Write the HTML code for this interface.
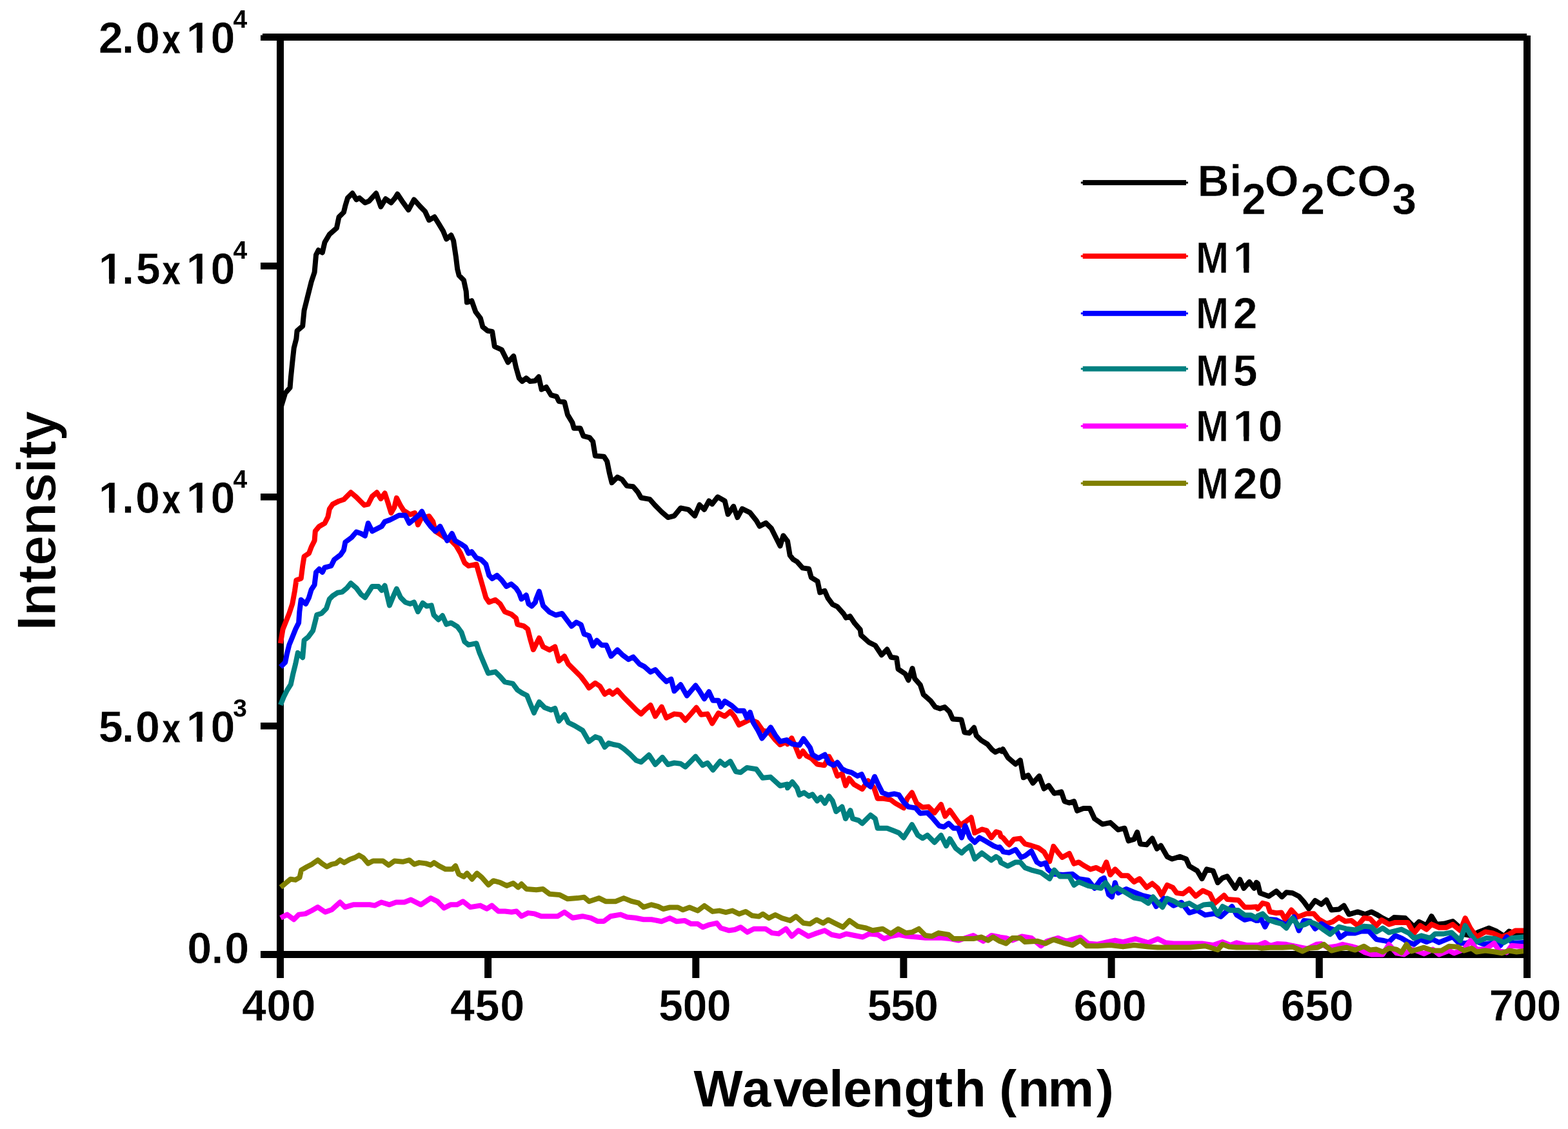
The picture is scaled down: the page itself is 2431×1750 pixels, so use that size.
<!DOCTYPE html>
<html><head><meta charset="utf-8"><title>PL spectra</title>
<style>html,body{margin:0;padding:0;background:#fff;} body{width:2431px;height:1750px;overflow:hidden;} svg{display:block;}</style>
</head><body>
<svg width="2431" height="1750" viewBox="0 0 2431 1750">
<rect width="2431" height="1750" fill="#fff"/>
<rect x="407" y="52" width="1960" height="11" fill="#000"/>
<rect x="429" y="52" width="11" height="1464" fill="#000"/>
<rect x="2362" y="55" width="11" height="1461" fill="#000"/>
<rect x="404" y="1474" width="1969" height="11" fill="#000"/>
<rect x="404" y="54.5" width="30" height="8.5" fill="#000"/>
<rect x="404" y="407" width="30" height="10.6" fill="#000"/>
<rect x="404" y="765" width="30" height="10.6" fill="#000"/>
<rect x="404" y="1120" width="30" height="10.6" fill="#000"/>
<rect x="751.1" y="1480" width="11" height="36" fill="#000"/>
<rect x="1073.3" y="1480" width="11" height="36" fill="#000"/>
<rect x="1395.4" y="1480" width="11" height="36" fill="#000"/>
<rect x="1717.6" y="1480" width="11" height="36" fill="#000"/>
<rect x="2039.8" y="1480" width="11" height="36" fill="#000"/>
<clipPath id="clip"><rect x="420" y="40" width="1942" height="1446"/></clipPath>
<g clip-path="url(#clip)">
<path d="M434.4,635.2 442.2,609.5 449.6,600.9 450.8,586.2 453.3,561.7 455.7,539.6 459.4,524.9 460.6,512.7 469.2,505.4 471.6,480.9 475.3,466.2 479.0,451.5 482.7,436.8 487.6,422.1 490.0,395.1 493.7,387.8 499.8,391.5 503.5,375.5 510.8,363.3 521.9,353.5 525.5,336.3 532.9,329.0 535.3,319.2 539.0,306.9 546.4,299.6 552.5,309.4 557.4,306.9 565.9,314.3 572.1,311.8 583.1,299.6 590.4,320.4 597.8,308.2 606.4,314.3 612.5,306.9 616.2,300.8 623.5,311.8 633.3,325.3 641.9,309.4 651.7,320.4 659.0,327.8 665.2,341.2 673.7,336.3 679.8,346.1 687.2,358.4 692.1,370.6 699.4,364.5 703.1,373.1 706.8,397.6 709.2,417.2 711.7,427.0 719.0,434.3 722.7,451.5 723.9,468.6 731.3,466.2 737.4,483.3 744.8,493.1 748.4,506.6 755.8,512.7 763.1,513.9 766.8,537.2 777.8,542.1 787.6,561.7 796.2,551.9 799.9,569.0 804.8,586.2 809.7,591.1 815.8,586.2 821.9,591.1 829.8,590.2 830.0,589.9 835.2,584.1 839.6,603.7 846.9,600.0 854.3,612.3 862.9,614.7 866.5,622.1 875.1,623.3 880.0,642.9 887.4,655.1 889.8,663.7 899.6,663.7 904.5,675.9 914.3,678.4 919.2,684.5 922.9,706.6 936.4,707.8 941.2,715.1 944.9,733.5 948.6,748.2 957.2,739.6 964.5,743.3 971.9,753.1 981.7,754.3 989.0,762.9 993.9,771.5 1007.4,773.9 1016.0,783.7 1025.8,793.5 1035.6,802.1 1045.4,799.6 1055.2,787.4 1067.4,789.8 1077.2,799.6 1084.5,782.5 1091.9,789.8 1099.2,776.4 1104.1,781.3 1112.7,770.3 1123.7,776.4 1128.6,797.2 1137.2,784.9 1143.3,802.1 1150.7,788.6 1162.9,794.7 1172.7,807.0 1177.6,815.6 1187.4,810.7 1196.0,819.2 1202.1,831.5 1209.5,846.2 1214.4,830.3 1220.0,837.6 1221.0,838.8 1224.7,860.8 1229.6,867.0 1235.7,870.6 1244.3,880.4 1254.1,881.7 1257.8,895.1 1267.6,901.2 1271.2,918.4 1278.6,915.9 1283.5,927.0 1290.8,936.8 1298.2,940.4 1308.0,951.5 1311.7,957.6 1317.8,955.1 1325.1,966.2 1333.7,976.0 1334.9,984.5 1347.2,995.6 1357.0,1000.5 1366.8,1015.2 1375.3,1006.6 1381.5,1018.8 1390.0,1020.0 1392.5,1037.2 1403.5,1044.5 1408.4,1054.3 1414.5,1036.0 1418.2,1051.9 1426.8,1061.7 1431.7,1076.4 1442.7,1086.2 1450.0,1096.0 1457.4,1098.4 1464.7,1096.0 1472.1,1103.3 1477.0,1114.4 1490.5,1115.6 1495.4,1135.2 1502.7,1136.4 1510.1,1127.8 1513.7,1140.1 1521.1,1147.4 1530.9,1153.5 1538.2,1162.1 1543.1,1165.8 1550.0,1162.5 1552.9,1164.6 1554.9,1161.2 1562.2,1173.5 1562.7,1174.4 1574.5,1184.5 1581.8,1178.4 1586.7,1205.3 1594.1,1201.7 1601.4,1213.9 1611.2,1202.9 1618.6,1222.5 1625.9,1217.6 1634.5,1229.8 1645.5,1227.4 1650.4,1242.1 1657.8,1244.5 1665.1,1242.1 1670.0,1256.8 1679.8,1253.1 1689.6,1253.1 1697.0,1269.0 1709.2,1277.6 1721.5,1275.1 1733.7,1286.2 1743.5,1283.7 1749.6,1303.3 1758.2,1300.9 1763.1,1289.8 1768.0,1308.2 1777.8,1309.4 1786.4,1299.6 1793.7,1315.6 1799.8,1310.7 1809.6,1327.8 1817.0,1331.5 1829.2,1327.8 1839.0,1331.5 1843.9,1342.5 1856.2,1349.8 1863.5,1362.1 1870.9,1347.4 1880.7,1349.8 1888.0,1368.2 1895.4,1360.9 1902.7,1358.4 1915.0,1376.8 1922.3,1363.3 1928.4,1376.8 1937.0,1367.0 1944.4,1376.8 1947.8,1367.8 1950.0,1369.4 1953.6,1384.3 1967.2,1389.2 1978.8,1381.4 1987.5,1390.1 1994.3,1383.3 2004.0,1384.3 2013.7,1389.2 2021.5,1397.9 2029.2,1408.6 2038.9,1395.9 2048.6,1401.8 2056.4,1395.0 2064.2,1410.5 2075.8,1409.5 2083.6,1403.7 2091.3,1417.3 2104.9,1413.4 2116.5,1417.3 2126.2,1413.4 2134.0,1417.3 2143.7,1423.1 2153.4,1428.0 2161.2,1422.1 2178.6,1423.1 2192.2,1436.7 2200.0,1428.9 2211.6,1434.7 2219.4,1420.2 2227.1,1432.8 2238.8,1431.8 2252.3,1428.0 2262.0,1436.7 2269.8,1448.3 2281.4,1450.3 2293.1,1444.4 2308.6,1438.6 2320.2,1443.5 2331.9,1451.2 2339.6,1443.5 2347.4,1446.4 2366.8,1445.4" fill="none" stroke="#000000" stroke-width="8.0" stroke-linejoin="round" stroke-linecap="butt"/>
<path d="M434.9,997.2 438.6,975.2 443.5,962.9 448.4,950.7 453.3,936.0 456.9,916.4 459.4,899.2 466.7,896.8 469.2,877.2 471.6,862.5 479.0,857.6 482.7,847.8 487.6,838.0 488.8,823.3 494.9,815.9 503.5,811.0 508.4,801.2 510.8,789.0 515.7,781.6 525.5,776.7 532.9,774.3 543.9,763.3 552.5,770.6 564.7,782.9 570.8,781.6 577.0,769.4 584.3,763.3 590.4,773.1 596.6,764.5 601.5,779.2 606.4,795.1 611.3,786.5 614.9,771.8 621.1,784.1 626.0,791.4 635.8,797.6 643.1,795.1 648.0,813.5 652.9,803.7 665.2,800.0 671.3,808.6 674.9,823.3 682.3,828.2 689.6,833.1 699.4,838.0 706.8,845.3 714.1,857.6 720.3,872.3 726.4,877.2 738.6,874.7 743.5,891.9 748.4,909.0 753.3,926.2 758.2,933.5 768.0,929.8 775.4,936.0 782.7,948.2 792.5,951.9 799.9,958.0 802.3,967.8 812.1,970.3 818.2,975.2 821.9,989.8 826.8,1007.0 827.3,1006.1 835.9,989.0 842.0,1002.5 851.8,1007.4 860.4,1002.5 866.5,1024.5 875.1,1017.2 881.2,1029.4 891.0,1039.2 900.8,1049.0 908.2,1058.8 913.1,1066.2 922.9,1058.8 930.2,1063.7 937.6,1076.0 944.9,1071.1 949.8,1076.0 957.2,1069.8 967.0,1080.9 976.8,1090.7 986.6,1100.5 993.9,1106.6 1001.3,1099.2 1008.6,1093.1 1016.0,1110.3 1025.8,1095.6 1033.1,1112.7 1045.4,1106.6 1055.2,1107.8 1062.5,1116.4 1072.3,1105.4 1079.6,1096.8 1087.0,1107.8 1096.8,1106.6 1104.1,1121.3 1113.9,1105.4 1123.7,1110.3 1132.3,1102.9 1138.4,1110.3 1145.8,1123.7 1155.6,1118.8 1162.9,1115.2 1173.9,1120.0 1182.5,1132.3 1192.3,1134.7 1202.1,1147.0 1209.5,1154.3 1220.0,1149.4 1221.0,1153.3 1227.4,1144.1 1233.9,1158.8 1239.4,1172.6 1244.9,1164.3 1250.4,1171.6 1257.8,1175.3 1266.9,1184.5 1278.0,1186.3 1285.3,1172.6 1290.8,1182.7 1298.2,1202.9 1305.5,1199.2 1311.0,1217.6 1316.5,1206.5 1323.9,1215.7 1336.7,1223.1 1345.9,1210.2 1355.1,1221.2 1360.6,1237.8 1369.8,1237.8 1380.8,1239.6 1388.2,1245.1 1401.0,1252.4 1406.5,1237.8 1413.9,1228.6 1421.2,1245.1 1430.4,1251.5 1439.6,1250.6 1448.8,1259.8 1458.9,1246.9 1465.3,1265.3 1472.7,1256.1 1481.8,1269.0 1489.2,1279.1 1498.4,1272.7 1505.7,1267.1 1511.2,1291.0 1522.2,1285.5 1529.6,1287.3 1536.9,1298.4 1544.3,1289.2 1550.0,1291.1 1551.6,1296.5 1554.9,1298.4 1562.7,1307.6 1564.7,1309.4 1572.0,1300.9 1581.8,1299.6 1589.2,1308.2 1599.0,1310.7 1610.0,1314.3 1618.6,1320.5 1627.2,1335.2 1633.3,1311.9 1640.6,1321.7 1646.8,1329.0 1657.8,1322.9 1665.1,1338.8 1672.5,1336.4 1679.8,1341.3 1690.8,1347.4 1699.4,1344.9 1709.2,1349.8 1715.3,1336.4 1721.5,1356.0 1728.8,1347.4 1738.6,1357.2 1748.4,1357.2 1758.2,1367.0 1766.8,1362.1 1777.8,1375.6 1786.4,1369.4 1794.9,1376.8 1801.1,1387.8 1809.6,1371.9 1818.2,1375.6 1824.3,1384.1 1834.1,1385.4 1843.9,1378.0 1853.7,1389.0 1864.8,1380.5 1875.8,1385.4 1883.1,1400.1 1897.8,1387.8 1902.7,1393.9 1919.9,1395.2 1929.7,1406.2 1939.5,1406.2 1947.8,1405.6 1950.0,1408.6 1957.5,1399.8 1965.2,1401.8 1969.1,1413.4 1978.8,1415.3 1986.6,1414.4 1992.4,1425.0 2002.1,1410.5 2011.8,1421.2 2017.6,1419.2 2025.4,1416.3 2037.0,1416.3 2044.8,1425.0 2056.4,1431.8 2066.1,1428.9 2075.8,1422.1 2085.5,1428.0 2095.2,1427.0 2104.9,1434.7 2114.6,1423.1 2124.3,1424.1 2134.0,1434.7 2141.8,1426.0 2153.4,1432.8 2163.1,1429.9 2182.5,1429.9 2192.2,1446.4 2201.9,1434.7 2211.6,1440.6 2219.4,1432.8 2231.0,1437.7 2242.6,1437.7 2252.3,1432.8 2264.0,1442.5 2271.7,1423.1 2279.5,1438.6 2289.2,1452.2 2302.8,1444.4 2314.4,1446.4 2328.0,1452.2 2339.6,1448.3 2349.3,1442.5 2366.8,1442.5" fill="none" stroke="#ff0000" stroke-width="8.0" stroke-linejoin="round" stroke-linecap="butt"/>
<path d="M434.9,1033.9 442.2,1026.6 444.7,1014.3 448.4,999.6 453.3,987.4 458.2,975.2 463.1,965.4 464.3,948.2 466.7,929.8 474.1,936.0 479.0,926.2 482.7,913.9 487.6,906.6 490.0,887.0 494.9,882.1 499.8,887.0 503.5,879.6 513.3,877.2 518.2,867.4 528.0,860.0 532.9,852.7 535.3,840.4 545.1,833.1 552.5,824.5 559.8,827.0 565.9,830.6 570.8,811.0 577.0,823.3 586.8,818.4 591.7,815.9 596.6,808.6 603.9,806.1 611.3,802.5 618.6,798.8 628.4,798.8 634.5,811.0 643.1,803.7 650.5,797.6 654.1,792.7 660.3,806.1 667.6,815.9 674.9,823.3 682.3,815.9 689.6,830.6 693.3,838.0 700.7,827.0 705.6,838.0 714.1,842.9 721.5,847.8 726.4,857.6 731.3,855.1 738.6,864.9 746.0,867.4 753.3,874.7 758.2,891.9 763.1,896.8 770.5,891.9 777.8,899.2 785.2,909.0 792.5,905.3 799.9,911.5 804.8,918.8 808.4,928.6 815.8,922.5 819.5,936.0 824.4,939.6 830.0,933.5 831.0,929.0 835.9,916.7 842.0,938.8 851.8,948.6 861.6,953.5 871.4,951.0 878.8,960.8 886.1,970.6 893.5,964.5 900.8,968.2 905.7,982.9 913.1,985.3 919.2,1001.2 925.3,992.7 932.7,1000.0 940.0,1000.0 947.4,1017.2 957.2,1007.4 964.5,1014.7 974.3,1022.1 981.7,1018.4 991.5,1029.4 998.8,1033.1 1008.6,1041.7 1016.0,1038.0 1023.3,1046.6 1033.1,1056.4 1040.5,1052.7 1045.4,1071.1 1055.2,1061.3 1064.9,1078.4 1078.4,1062.5 1084.5,1071.1 1091.9,1083.3 1099.2,1072.3 1105.4,1085.8 1113.9,1085.8 1117.6,1095.6 1123.7,1087.0 1133.5,1093.1 1143.3,1101.7 1153.1,1101.7 1158.0,1112.7 1162.9,1104.1 1167.8,1120.0 1175.2,1132.3 1181.3,1144.5 1187.4,1137.2 1194.8,1127.4 1202.1,1139.6 1209.5,1149.4 1220.0,1147.0 1221.0,1148.7 1228.4,1153.3 1239.4,1155.1 1245.8,1145.0 1255.9,1158.8 1259.6,1169.8 1268.8,1175.3 1278.9,1169.8 1285.3,1182.7 1292.7,1186.3 1298.2,1181.7 1305.5,1191.8 1312.9,1195.5 1320.2,1197.3 1329.4,1202.9 1335.8,1200.1 1342.2,1213.9 1349.6,1219.4 1356.0,1203.8 1362.4,1217.6 1368.0,1228.6 1377.1,1232.2 1386.3,1230.4 1393.7,1232.2 1401.0,1243.3 1408.4,1250.6 1419.4,1252.4 1426.7,1260.7 1437.8,1259.8 1445.1,1267.1 1456.1,1280.0 1463.5,1281.8 1470.8,1276.3 1478.2,1283.7 1485.5,1283.7 1491.0,1298.4 1496.5,1280.0 1503.9,1298.4 1511.2,1305.7 1518.6,1298.4 1531.4,1305.7 1540.6,1311.2 1549.8,1314.9 1550.0,1313.1 1554.9,1319.2 1555.3,1320.4 1564.7,1321.7 1574.5,1316.8 1583.1,1329.0 1589.2,1326.6 1599.0,1319.2 1607.6,1336.4 1613.7,1340.0 1621.0,1337.6 1624.7,1347.4 1633.3,1354.7 1648.0,1356.0 1662.7,1354.7 1672.5,1362.1 1687.2,1364.5 1697.0,1376.8 1706.8,1363.3 1711.7,1360.9 1719.0,1386.6 1723.9,1390.3 1728.8,1368.2 1733.7,1384.1 1746.0,1378.0 1758.2,1382.9 1770.5,1387.8 1785.2,1391.5 1792.5,1405.0 1804.7,1392.7 1819.4,1403.7 1831.7,1398.8 1843.9,1414.8 1856.2,1411.1 1868.4,1418.4 1883.1,1416.0 1892.9,1420.9 1910.1,1405.0 1917.4,1418.4 1929.7,1425.8 1939.5,1423.3 1947.8,1427.0 1950.0,1427.0 1955.5,1425.0 1961.3,1436.7 1967.2,1425.0 1978.8,1426.0 1994.3,1433.8 2006.0,1421.2 2013.7,1442.5 2021.5,1427.0 2031.2,1428.0 2038.9,1439.6 2048.6,1431.8 2060.3,1438.6 2071.9,1442.5 2077.7,1453.2 2087.4,1446.4 2101.0,1446.4 2110.7,1443.5 2122.4,1443.5 2134.0,1456.1 2145.6,1458.0 2153.4,1460.0 2163.1,1450.3 2172.8,1454.1 2182.5,1460.0 2192.2,1463.8 2201.9,1456.1 2211.6,1460.0 2221.3,1456.1 2231.0,1460.9 2242.6,1456.1 2252.3,1452.2 2262.0,1461.9 2273.7,1461.9 2285.3,1458.0 2300.8,1463.8 2312.5,1461.9 2326.1,1465.8 2335.8,1452.2 2345.5,1461.9 2366.8,1460.9" fill="none" stroke="#0000ff" stroke-width="8.0" stroke-linejoin="round" stroke-linecap="butt"/>
<path d="M434.9,1092.7 439.8,1080.5 444.7,1070.7 450.8,1060.9 454.5,1043.7 458.2,1029.0 461.8,1011.9 469.2,1019.2 471.6,992.3 477.8,987.4 485.1,977.6 488.8,962.9 491.2,953.1 498.6,950.7 505.9,943.3 510.8,928.6 515.7,923.7 523.1,918.8 530.4,917.6 537.8,911.5 543.9,904.1 552.5,911.5 559.8,921.3 565.9,926.2 570.8,918.8 577.0,909.0 586.8,909.0 591.7,915.1 596.6,907.8 603.9,938.4 610.0,923.7 614.9,912.7 621.1,926.2 628.4,933.5 635.8,936.0 641.9,933.5 648.0,948.2 655.4,934.7 661.5,939.6 668.8,938.4 672.5,953.1 679.8,960.5 686.0,954.3 692.1,967.8 699.4,965.4 709.2,971.5 715.4,980.0 720.3,994.7 726.4,999.6 738.6,997.2 743.5,1011.9 749.7,1026.6 757.0,1043.7 768.0,1041.3 775.4,1048.6 782.7,1057.2 795.0,1059.7 802.3,1069.5 809.7,1074.4 817.0,1078.0 821.9,1090.3 828.0,1105.0 828.6,1102.9 835.9,1088.2 844.5,1096.8 854.3,1100.5 860.4,1098.0 866.5,1117.6 875.1,1107.8 881.2,1120.0 891.0,1124.9 903.3,1132.3 913.1,1149.4 922.9,1142.1 930.2,1144.5 937.6,1158.0 943.7,1151.9 952.3,1154.3 959.6,1155.6 967.0,1160.5 976.8,1169.0 986.6,1178.8 993.9,1181.3 1006.2,1170.3 1016.0,1185.0 1027.0,1173.9 1035.6,1185.0 1045.4,1182.5 1055.2,1183.7 1062.5,1188.6 1069.8,1181.3 1078.4,1172.7 1089.4,1186.2 1096.8,1182.5 1105.4,1193.5 1116.4,1180.1 1123.7,1186.2 1132.3,1180.1 1140.9,1196.0 1148.2,1197.2 1158.0,1189.9 1172.7,1192.3 1182.5,1205.8 1194.8,1204.6 1209.5,1218.0 1220.0,1215.6 1221.0,1221.2 1228.4,1212.0 1235.7,1221.2 1239.4,1232.2 1246.7,1228.6 1254.1,1234.1 1259.6,1231.3 1266.9,1241.4 1272.4,1235.9 1278.9,1245.1 1285.3,1234.1 1290.8,1241.4 1296.3,1258.0 1305.5,1250.6 1311.0,1269.0 1318.4,1256.1 1322.0,1269.0 1331.2,1271.7 1336.7,1276.3 1349.6,1263.5 1356.9,1269.0 1360.6,1283.7 1375.3,1283.7 1384.5,1287.3 1393.7,1291.0 1401.0,1298.4 1413.9,1278.2 1423.1,1294.7 1430.4,1299.3 1437.8,1294.7 1448.8,1305.7 1458.9,1294.7 1467.1,1311.2 1472.7,1300.2 1481.8,1314.9 1491.0,1322.2 1496.5,1316.7 1503.9,1311.2 1511.2,1331.4 1522.2,1322.2 1536.9,1333.3 1544.3,1327.8 1550.0,1331.5 1551.6,1336.9 1562.2,1342.5 1562.7,1342.4 1574.5,1336.4 1581.8,1336.4 1589.2,1344.9 1599.0,1348.6 1613.7,1352.3 1627.2,1362.1 1634.5,1348.6 1643.1,1358.4 1657.8,1358.4 1665.1,1371.9 1672.5,1367.0 1687.2,1373.1 1706.8,1376.8 1714.1,1368.2 1723.9,1381.7 1731.3,1375.6 1746.0,1384.1 1758.2,1391.5 1770.5,1393.9 1780.3,1400.1 1787.6,1390.3 1794.9,1398.8 1802.3,1406.2 1809.6,1392.7 1819.4,1396.4 1831.7,1403.7 1843.9,1400.1 1856.2,1407.4 1866.0,1402.5 1878.2,1401.3 1888.0,1417.2 1895.4,1405.0 1907.6,1411.1 1919.9,1411.1 1929.7,1418.4 1939.5,1418.4 1947.8,1423.1 1950.0,1419.7 1957.5,1416.3 1967.2,1426.0 1978.8,1429.9 1986.6,1431.8 1994.3,1438.6 2004.0,1423.1 2013.7,1435.7 2023.4,1432.8 2031.2,1428.9 2040.9,1432.8 2052.5,1441.5 2062.2,1448.3 2075.8,1436.7 2087.4,1439.6 2101.0,1441.5 2114.6,1435.7 2126.2,1436.7 2134.0,1444.4 2143.7,1438.6 2153.4,1445.4 2172.8,1440.6 2184.4,1446.4 2192.2,1454.1 2203.8,1450.3 2217.4,1454.1 2225.2,1447.4 2238.8,1447.4 2250.4,1445.4 2264.0,1458.0 2271.7,1434.7 2279.5,1448.3 2289.2,1460.0 2304.7,1454.1 2318.3,1455.1 2331.9,1460.9 2343.5,1454.1 2366.8,1452.2" fill="none" stroke="#008080" stroke-width="8.0" stroke-linejoin="round" stroke-linecap="butt"/>
<path d="M435.1,1422.8 445.3,1417.6 455.6,1425.3 463.2,1417.6 473.5,1416.4 483.7,1411.2 492.7,1406.1 504.2,1413.8 514.4,1410.0 527.2,1398.5 534.9,1406.1 547.6,1402.3 563.0,1402.3 573.2,1402.3 580.9,1403.6 591.1,1398.5 603.9,1402.3 614.1,1398.5 626.9,1398.5 637.1,1394.6 652.5,1402.3 667.8,1392.1 678.1,1397.2 688.3,1407.4 698.5,1402.3 708.7,1402.3 717.7,1397.2 729.2,1406.1 744.6,1403.6 754.8,1408.7 762.5,1403.6 772.7,1412.5 782.9,1412.5 793.1,1413.8 800.8,1412.5 808.5,1420.2 818.7,1415.1 828.9,1416.4 839.2,1420.2 852.0,1420.2 864.7,1420.2 875.0,1413.8 887.8,1422.8 903.1,1420.2 915.9,1422.8 926.1,1427.9 936.3,1427.9 946.6,1420.2 961.9,1417.6 972.2,1421.5 984.9,1422.8 997.7,1425.3 1010.0,1425.3 1025.6,1428.2 1038.4,1423.1 1048.6,1428.2 1061.4,1426.9 1071.6,1432.1 1081.8,1432.1 1089.5,1437.2 1099.7,1433.3 1111.2,1430.8 1117.6,1438.5 1130.4,1442.3 1139.4,1441.0 1148.3,1437.2 1158.6,1444.9 1168.8,1439.7 1186.7,1439.7 1196.9,1446.1 1207.1,1447.4 1218.7,1439.7 1227.6,1451.2 1237.8,1442.3 1253.2,1451.2 1263.4,1447.4 1278.7,1442.3 1289.0,1448.7 1301.8,1451.2 1312.0,1447.4 1324.8,1450.0 1337.6,1452.5 1347.8,1447.4 1360.6,1448.7 1370.8,1455.1 1381.0,1451.2 1393.8,1448.7 1406.6,1451.2 1422.0,1452.5 1434.7,1453.8 1447.5,1453.8 1460.3,1453.8 1473.1,1455.1 1485.9,1457.6 1508.9,1450.0 1524.3,1458.9 1537.0,1450.0 1549.8,1452.5 1550.0,1452.7 1559.8,1453.9 1569.6,1457.6 1584.3,1451.5 1599.0,1453.9 1613.7,1466.2 1623.5,1458.8 1640.6,1453.9 1652.9,1458.8 1674.9,1452.7 1687.2,1462.5 1701.9,1463.7 1716.6,1460.1 1728.8,1457.6 1741.1,1460.1 1760.7,1455.2 1780.3,1461.3 1794.9,1455.2 1807.2,1461.3 1819.4,1462.5 1843.9,1462.5 1863.5,1462.5 1880.7,1465.0 1895.4,1460.1 1907.6,1465.0 1917.4,1461.3 1932.1,1465.0 1950.0,1465.0 1951.6,1464.8 1961.3,1460.9 1969.1,1465.8 1980.7,1462.9 1994.3,1463.8 2004.0,1465.8 2017.6,1468.7 2027.3,1470.6 2040.9,1463.8 2048.6,1462.9 2058.3,1468.7 2071.9,1466.8 2081.6,1463.8 2095.2,1466.8 2104.9,1469.7 2116.5,1476.5 2126.2,1479.4 2143.7,1479.4 2153.4,1463.8 2165.0,1477.4 2176.7,1479.4 2188.3,1471.6 2196.1,1473.5 2207.7,1478.4 2221.3,1471.6 2231.0,1479.4 2246.5,1473.5 2254.3,1477.4 2269.8,1471.6 2279.5,1458.0 2289.2,1471.6 2302.8,1471.6 2316.4,1461.9 2324.1,1473.5 2335.8,1476.5 2343.5,1465.8 2366.8,1467.7" fill="none" stroke="#ff00ff" stroke-width="8.0" stroke-linejoin="round" stroke-linecap="butt"/>
<path d="M435.1,1375.4 442.8,1369.0 450.5,1362.7 458.1,1363.9 464.5,1360.1 467.1,1348.6 476.0,1343.5 483.7,1339.6 492.7,1333.2 499.0,1338.4 506.7,1343.5 514.4,1339.6 520.8,1338.4 527.2,1333.2 533.6,1337.1 542.5,1332.0 550.2,1329.4 556.6,1325.6 563.0,1329.4 570.7,1338.4 578.3,1334.5 593.7,1334.5 602.6,1340.9 611.6,1334.5 624.4,1335.8 634.6,1333.2 642.3,1339.6 649.9,1337.1 660.2,1338.4 667.8,1340.9 672.9,1337.1 680.6,1342.2 690.8,1347.3 701.1,1347.3 706.2,1342.2 711.3,1355.0 719.0,1358.8 724.1,1353.7 731.8,1362.7 739.4,1353.7 747.1,1360.1 757.3,1371.6 765.0,1365.2 775.2,1367.8 785.5,1372.9 795.7,1369.0 803.4,1375.4 808.5,1370.3 816.2,1378.0 831.5,1379.3 841.7,1378.0 852.0,1385.7 867.3,1386.9 880.1,1393.3 895.4,1392.1 905.7,1390.8 913.3,1397.2 928.7,1392.1 938.9,1397.2 954.3,1397.2 967.0,1392.1 979.8,1397.2 990.1,1399.7 997.7,1406.1 1010.0,1402.3 1020.5,1405.2 1028.1,1409.0 1038.4,1406.5 1051.1,1406.5 1058.8,1410.3 1069.0,1406.5 1081.8,1411.6 1092.1,1403.9 1104.9,1412.9 1115.1,1411.6 1125.3,1414.2 1135.5,1411.6 1145.8,1416.7 1156.0,1412.9 1166.2,1419.3 1176.5,1420.6 1182.8,1416.7 1191.8,1423.1 1202.0,1418.0 1212.3,1423.1 1225.0,1426.9 1234.0,1420.6 1245.5,1430.8 1255.7,1432.1 1266.0,1425.7 1276.2,1430.8 1283.9,1425.7 1294.1,1430.8 1306.9,1437.2 1317.1,1426.9 1329.9,1435.9 1342.7,1438.5 1352.9,1442.3 1368.3,1439.7 1381.0,1447.4 1392.5,1439.7 1404.1,1446.1 1414.3,1444.9 1424.5,1439.7 1434.7,1450.0 1445.0,1451.2 1455.2,1446.1 1470.5,1448.7 1478.2,1455.1 1491.0,1455.1 1508.9,1455.1 1521.7,1452.5 1531.9,1457.6 1539.6,1452.5 1549.8,1458.9 1550.0,1458.8 1559.8,1462.5 1569.6,1453.9 1581.8,1453.9 1589.2,1460.1 1608.8,1458.8 1621.0,1462.5 1633.3,1456.4 1648.0,1461.3 1662.7,1465.0 1674.9,1457.6 1684.7,1466.2 1701.9,1466.2 1721.5,1465.0 1741.1,1467.4 1758.2,1465.0 1780.3,1467.4 1794.9,1468.6 1819.4,1468.6 1843.9,1468.6 1868.4,1466.2 1888.0,1472.3 1895.4,1463.7 1905.2,1467.4 1917.4,1468.6 1932.1,1468.6 1950.0,1468.6 1955.5,1469.7 1969.1,1468.7 1988.5,1468.7 2004.0,1467.7 2019.5,1474.5 2029.2,1469.7 2042.8,1468.7 2052.5,1463.8 2064.2,1473.5 2075.8,1470.6 2087.4,1468.7 2101.0,1472.6 2114.6,1466.8 2124.3,1472.6 2134.0,1471.6 2143.7,1475.5 2153.4,1469.7 2165.0,1471.6 2172.8,1476.5 2180.6,1463.8 2188.3,1474.5 2207.7,1468.7 2221.3,1473.5 2234.9,1473.5 2246.5,1466.8 2260.1,1467.7 2269.8,1473.5 2281.4,1469.7 2289.2,1475.5 2302.8,1473.5 2318.3,1475.5 2328.0,1477.4 2339.6,1473.5 2351.3,1475.5 2366.8,1473.5" fill="none" stroke="#808000" stroke-width="8.0" stroke-linejoin="round" stroke-linecap="butt"/>
</g>
<text x="152.7 189.0 210.1" y="81.7" font-size="68.3" font-family="'Liberation Sans', Arial, sans-serif" font-weight="bold" stroke="#fff" stroke-width="0.6">2.0<tspan x="252.2" font-size="61" stroke="#000" stroke-width="1" textLength="26.80" lengthAdjust="spacingAndGlyphs">x</tspan><tspan x="288.7 326.5">10</tspan></text>
<text x="361.6" y="43.1" font-size="39" font-family="'Liberation Sans', Arial, sans-serif" font-weight="bold" >4</text>
<text x="152.7 189.0 210.7" y="439.5" font-size="68.3" font-family="'Liberation Sans', Arial, sans-serif" font-weight="bold" stroke="#fff" stroke-width="0.6">1.5<tspan x="252.2" font-size="61" stroke="#000" stroke-width="1" textLength="26.80" lengthAdjust="spacingAndGlyphs">x</tspan><tspan x="288.7 326.5">10</tspan></text>
<text x="361.6" y="400.9" font-size="39" font-family="'Liberation Sans', Arial, sans-serif" font-weight="bold" >4</text>
<text x="152.7 189.0 210.1" y="794.6" font-size="68.3" font-family="'Liberation Sans', Arial, sans-serif" font-weight="bold" stroke="#fff" stroke-width="0.6">1.0<tspan x="252.2" font-size="61" stroke="#000" stroke-width="1" textLength="26.80" lengthAdjust="spacingAndGlyphs">x</tspan><tspan x="288.7 326.5">10</tspan></text>
<text x="361.6" y="756.0" font-size="39" font-family="'Liberation Sans', Arial, sans-serif" font-weight="bold" >4</text>
<text x="152.7 189.0 210.1" y="1149.5" font-size="68.3" font-family="'Liberation Sans', Arial, sans-serif" font-weight="bold" stroke="#fff" stroke-width="0.6">5.0<tspan x="252.2" font-size="61" stroke="#000" stroke-width="1" textLength="26.80" lengthAdjust="spacingAndGlyphs">x</tspan><tspan x="288.7 326.5">10</tspan></text>
<text x="361.3" y="1110.9" font-size="39" font-family="'Liberation Sans', Arial, sans-serif" font-weight="bold" >3</text>
<text x="290.2 327.4 348.2" y="1493.2" font-size="68.3" font-family="'Liberation Sans', Arial, sans-serif" font-weight="bold" stroke="#fff" stroke-width="0.6">0.0</text>
<text x="375.0 413.2 451.5" y="1582.3" font-size="68.3" font-family="'Liberation Sans', Arial, sans-serif" font-weight="bold" stroke="#fff" stroke-width="0.6">400</text>
<text x="698.0 736.6 775.2" y="1582.3" font-size="68.3" font-family="'Liberation Sans', Arial, sans-serif" font-weight="bold" stroke="#fff" stroke-width="0.6">450</text>
<text x="1020.9 1058.4 1095.8" y="1582.3" font-size="68.3" font-family="'Liberation Sans', Arial, sans-serif" font-weight="bold" stroke="#fff" stroke-width="0.6">500</text>
<text x="1344.4 1380.8 1417.1" y="1582.3" font-size="68.3" font-family="'Liberation Sans', Arial, sans-serif" font-weight="bold" stroke="#fff" stroke-width="0.6">550</text>
<text x="1664.5 1702.2 1739.8" y="1582.3" font-size="68.3" font-family="'Liberation Sans', Arial, sans-serif" font-weight="bold" stroke="#fff" stroke-width="0.6">600</text>
<text x="1985.7 2023.2 2060.7" y="1582.3" font-size="68.3" font-family="'Liberation Sans', Arial, sans-serif" font-weight="bold" stroke="#fff" stroke-width="0.6">650</text>
<text x="2308.7 2345.6 2382.5" y="1582.3" font-size="68.3" font-family="'Liberation Sans', Arial, sans-serif" font-weight="bold" stroke="#fff" stroke-width="0.6">700</text>
<text x="1075.5 1150.6 1199.1 1241.3 1285.3 1307.3 1351.6 1401.5 1450.3 1479.6 1528.8 1549.2 1577.9 1624.4 1700.1" y="1715.2" font-size="80.5" font-family="'Liberation Sans', Arial, sans-serif" font-weight="bold" >Wavelength (nm)</text>
<text transform="translate(85.9,977.7) rotate(-90)" x="0" y="0" font-size="85" letter-spacing="-1.06" font-family="'Liberation Sans', Arial, sans-serif" font-weight="bold" stroke="#fff" stroke-width="1.2">Intensity</text>
<rect x="1678.7" y="279.1" width="160.3" height="8" fill="#000000"/>
<rect x="1675.8" y="281.6" width="166.1" height="3" fill="#000000"/>
<rect x="1678.7" y="393.0" width="160.3" height="8" fill="#ff0000"/>
<rect x="1675.8" y="395.5" width="166.1" height="3" fill="#ff0000"/>
<rect x="1678.7" y="481.8" width="160.3" height="8" fill="#0000ff"/>
<rect x="1675.8" y="484.3" width="166.1" height="3" fill="#0000ff"/>
<rect x="1678.7" y="567.7" width="160.3" height="8" fill="#008080"/>
<rect x="1675.8" y="570.2" width="166.1" height="3" fill="#008080"/>
<rect x="1678.7" y="656.4" width="160.3" height="8" fill="#ff00ff"/>
<rect x="1675.8" y="658.9" width="166.1" height="3" fill="#ff00ff"/>
<rect x="1678.7" y="745.1" width="160.3" height="8" fill="#808000"/>
<rect x="1675.8" y="747.6" width="166.1" height="3" fill="#808000"/>
<text y="304" font-size="68" font-family="'Liberation Sans', Arial, sans-serif" font-weight="bold" stroke="#fff" stroke-width="0.6"><tspan x="1856.5 1906.3">Bi</tspan><tspan x="1924.9" y="331.6">2</tspan><tspan x="1960.7" y="304">O</tspan><tspan x="2016.2" y="331.6">2</tspan><tspan x="2054.2 2104.2" y="304">CO</tspan><tspan x="2158.2" y="331.6">3</tspan></text>
<text  y="422.9" font-size="68" font-family="'Liberation Sans', Arial, sans-serif" font-weight="bold" stroke="#fff" stroke-width="0.6"><tspan x="1854.1" textLength="51.09" lengthAdjust="spacingAndGlyphs">M</tspan><tspan x="1911.8">1</tspan></text>
<text  y="509.0" font-size="68" font-family="'Liberation Sans', Arial, sans-serif" font-weight="bold" stroke="#fff" stroke-width="0.6"><tspan x="1854.1" textLength="51.09" lengthAdjust="spacingAndGlyphs">M</tspan><tspan x="1911.8">2</tspan></text>
<text  y="597.8" font-size="68" font-family="'Liberation Sans', Arial, sans-serif" font-weight="bold" stroke="#fff" stroke-width="0.6"><tspan x="1854.1" textLength="51.09" lengthAdjust="spacingAndGlyphs">M</tspan><tspan x="1911.8">5</tspan></text>
<text  y="683.8" font-size="68" font-family="'Liberation Sans', Arial, sans-serif" font-weight="bold" stroke="#fff" stroke-width="0.6"><tspan x="1854.1" textLength="51.09" lengthAdjust="spacingAndGlyphs">M</tspan><tspan x="1911.8 1950.8">10</tspan></text>
<text  y="772.6" font-size="68" font-family="'Liberation Sans', Arial, sans-serif" font-weight="bold" stroke="#fff" stroke-width="0.6"><tspan x="1854.1" textLength="51.09" lengthAdjust="spacingAndGlyphs">M</tspan><tspan x="1911.8 1950.8">20</tspan></text>
<rect x="291.80" y="74.53" width="13.44" height="8.47" fill="#fff"/>
<rect x="313.41" y="74.53" width="12.57" height="8.47" fill="#fff"/>
<rect x="155.80" y="432.33" width="13.44" height="8.47" fill="#fff"/>
<rect x="177.41" y="432.33" width="12.57" height="8.47" fill="#fff"/>
<rect x="291.80" y="432.33" width="13.44" height="8.47" fill="#fff"/>
<rect x="313.41" y="432.33" width="12.57" height="8.47" fill="#fff"/>
<rect x="155.80" y="787.43" width="13.44" height="8.47" fill="#fff"/>
<rect x="177.41" y="787.43" width="12.57" height="8.47" fill="#fff"/>
<rect x="291.80" y="787.43" width="13.44" height="8.47" fill="#fff"/>
<rect x="313.41" y="787.43" width="12.57" height="8.47" fill="#fff"/>
<rect x="291.80" y="1142.33" width="13.44" height="8.47" fill="#fff"/>
<rect x="313.41" y="1142.33" width="12.57" height="8.47" fill="#fff"/>
<rect x="1914.88" y="415.76" width="13.39" height="8.44" fill="#fff"/>
<rect x="1936.40" y="415.76" width="12.52" height="8.44" fill="#fff"/>
<rect x="1914.88" y="676.66" width="13.39" height="8.44" fill="#fff"/>
<rect x="1936.40" y="676.66" width="12.52" height="8.44" fill="#fff"/>
</svg>
</body></html>
